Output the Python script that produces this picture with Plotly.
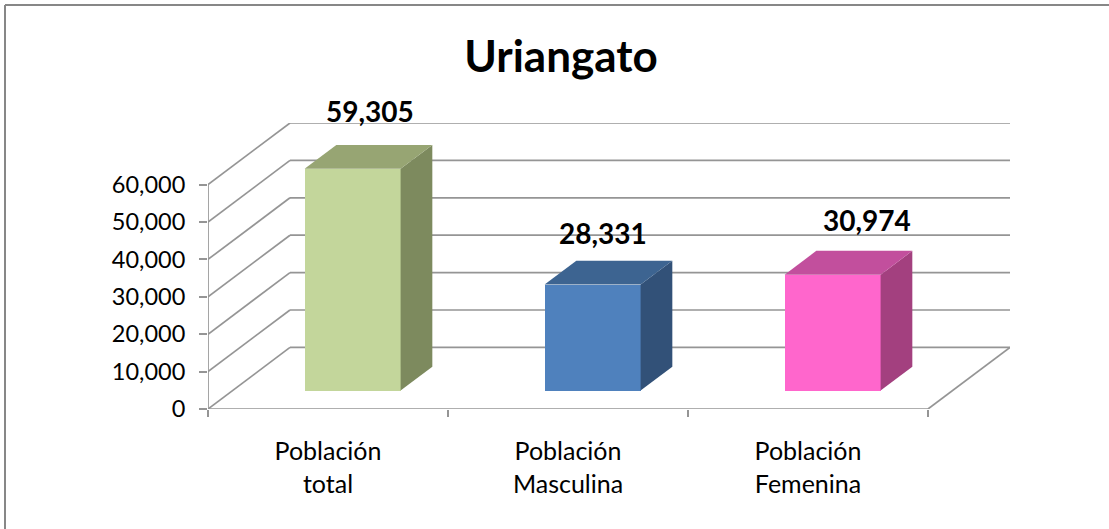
import plotly.graph_objects as go

# ---------------- data ----------------
categories = ["Población<br>total", "Población<br>Masculina", "Población<br>Femenina"]
values = [59305, 28331, 30974]
y_ticks = [0, 10000, 20000, 30000, 40000, 50000, 60000]
title_text = "Uriangato"

# ---------------- style ----------------
front_colors = ["#C3D69B", "#4F81BD", "#FF66CC"]
side_colors = ["#7D8A5E", "#325178", "#A3407F"]
top_colors = ["#97A573", "#3D6491", "#C24F9D"]
label_shift = [(2, 34), (-5, 28), (19, 31)]   # px nudges of the value labels
GRID = "#959595"
FONT = "Lato"

W, H = 1109, 529
ML, MR, MT, MB = 208, 99, 123, 120
PX_PER_CAT = 240.0
PX_PER_UNIT = 37.4 / 10000.0
plot_w = W - ML - MR
plot_h = H - MT - MB
xmax = plot_w / PX_PER_CAT
ymax = plot_h / PX_PER_UNIT
n = len(categories)
DX = xmax - n                 # depth offset in category units
DY = ymax - max(y_ticks)      # depth offset in value units
Z0, Z1 = 0.30, 0.687          # bar depth span (fraction of floor depth)
B0, B1 = 0.30, 0.70           # bar span inside a category

fig = go.Figure()

# front faces (real bars)
fig.add_trace(go.Bar(
    x=[i + 0.5 + Z0 * DX for i in range(n)],
    y=values,
    base=[Z0 * DY] * n,
    width=B1 - B0,
    marker=dict(color=front_colors, line=dict(width=0)),
    hoverinfo="skip",
    showlegend=False,
))

# side and top faces
for i, v in enumerate(values):
    xr = i + B1
    xl = i + B0
    sx = [xr + Z0 * DX, xr + Z1 * DX, xr + Z1 * DX, xr + Z0 * DX, xr + Z0 * DX]
    sy = [Z0 * DY, Z1 * DY, v + Z1 * DY, v + Z0 * DY, Z0 * DY]
    fig.add_trace(go.Scatter(x=sx, y=sy, mode="lines", fill="toself",
                             fillcolor=side_colors[i], line=dict(width=0),
                             hoverinfo="skip", showlegend=False))
    tx = [xl + Z0 * DX, xr + Z0 * DX, xr + Z1 * DX, xl + Z1 * DX, xl + Z0 * DX]
    ty = [v + Z0 * DY, v + Z0 * DY, v + Z1 * DY, v + Z1 * DY, v + Z0 * DY]
    fig.add_trace(go.Scatter(x=tx, y=ty, mode="lines", fill="toself",
                             fillcolor=top_colors[i], line=dict(width=0),
                             hoverinfo="skip", showlegend=False))

# walls / floor / grid lines
shapes = []
line_style = dict(color=GRID, width=1.7)
for t in y_ticks:
    shapes.append(dict(type="line", xref="x", yref="y", x0=0, y0=t, x1=DX, y1=t + DY,
                       line=line_style, layer="below"))
    shapes.append(dict(type="line", xref="x", yref="y", x0=DX, y0=t + DY, x1=n + DX, y1=t + DY,
                       line=line_style, layer="below"))
shapes.append(dict(type="line", xref="x", yref="y", x0=0, y0=0, x1=0, y1=max(y_ticks),
                   line=line_style, layer="below"))
shapes.append(dict(type="line", xref="x", yref="y", x0=0, y0=0, x1=n, y1=0,
                   line=line_style, layer="below"))
shapes.append(dict(type="line", xref="x", yref="y", x0=n, y0=0, x1=n + DX, y1=DY,
                   line=line_style, layer="below"))

# chart-area border (left and top edges)
def px_to_paper_x(px):
    return (px - ML) / plot_w

def px_to_paper_y(py):
    return (H - MB - py) / plot_h

border = dict(color="#878787", width=2)
shapes.append(dict(type="line", xref="paper", yref="paper",
                   x0=px_to_paper_x(5), y0=px_to_paper_y(5),
                   x1=px_to_paper_x(W + 5), y1=px_to_paper_y(5), line=border))
shapes.append(dict(type="line", xref="paper", yref="paper",
                   x0=px_to_paper_x(5), y0=px_to_paper_y(5),
                   x1=px_to_paper_x(5), y1=px_to_paper_y(H + 5), line=border))

# value labels
annotations = []
for i, v in enumerate(values):
    dxs, dys = label_shift[i]
    annotations.append(dict(
        x=i + 0.5 + (Z0 + Z1) / 2 * DX, y=v + Z1 * DY, xref="x", yref="y",
        text=f"<b>{v:,}</b>", showarrow=False, xanchor="center", yanchor="middle",
        xshift=dxs, yshift=dys, font=dict(family=FONT, size=28, color="black"),
    ))

fig.update_layout(
    width=W, height=H,
    margin=dict(l=ML, r=MR, t=MT, b=MB, pad=0),
    paper_bgcolor="white", plot_bgcolor="rgba(0,0,0,0)",
    showlegend=False,
    title=dict(text=f"<b>{title_text}</b>", x=(561) / W, xanchor="center",
               y=1 - 57 / H, yanchor="middle",
               font=dict(family=FONT, size=44, color="black")),
    shapes=shapes,
    annotations=annotations,
    xaxis=dict(range=[0, xmax], showgrid=False, zeroline=False, showline=False,
               tickvals=[i + 0.5 for i in range(n)], ticktext=categories,
               ticks="", ticklabelstandoff=25,
               tickfont=dict(family=FONT, size=25, color="black"),
               minor=dict(tickvals=list(range(n + 1)), ticks="outside", ticklen=7,
                          tickcolor=GRID, tickwidth=1.7, showgrid=False),
               fixedrange=True),
    yaxis=dict(range=[0, ymax], showgrid=False, zeroline=False, showline=False,
               tickvals=y_ticks, ticktext=[f"{t:,}" for t in y_ticks],
               ticks="outside", ticklen=8, tickcolor=GRID, tickwidth=1.7,
               ticklabelstandoff=9,
               tickfont=dict(family=FONT, size=23.5, color="black"),
               fixedrange=True),
    bargap=0,
)

fig.write_html("out.html", config={"displayModeBar": False},
               post_script="document.body.style.margin='0';")
